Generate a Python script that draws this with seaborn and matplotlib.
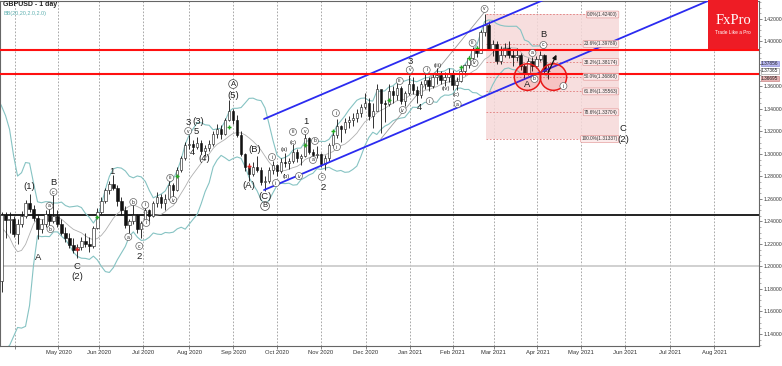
import numpy as np
import pandas as pd
import matplotlib
matplotlib.use("Agg")
import matplotlib.pyplot as plt
import seaborn as sns
from matplotlib.patches import Rectangle, Ellipse

# ---------------- data (GBPUSD, 2-day bars, index 0 = start of Apr 2020) -------------
bar_start = -12
highs = [1.2970, 1.2830, 1.2930, 1.3200, 1.3050, 1.2890, 1.2400, 1.2100, 1.1760, 1.1880, 1.2480, 1.2480,
         1.2480, 1.2450, 1.2420, 1.2490, 1.2590, 1.2648, 1.2550, 1.2460, 1.2420, 1.2500,
         1.2520, 1.2640, 1.2500, 1.2420, 1.2350, 1.2300, 1.2250, 1.2200, 1.2260, 1.2300,
         1.2260, 1.2360, 1.2520, 1.2620, 1.2700, 1.2760, 1.2813, 1.2720, 1.2620, 1.2540,
         1.2420, 1.2570, 1.2470, 1.2400, 1.2540, 1.2510, 1.2580, 1.2660, 1.2640, 1.2640,
         1.2780, 1.2740, 1.2880, 1.2980, 1.3110, 1.3170, 1.3120, 1.3150, 1.3120, 1.3080,
         1.3120, 1.3200, 1.3270, 1.3260, 1.3320, 1.3482, 1.3400, 1.3350, 1.3200, 1.3010,
         1.2920, 1.2930, 1.2980, 1.2880, 1.2800, 1.2880, 1.2935, 1.2910, 1.2960, 1.3005,
         1.2960, 1.3085, 1.3040, 1.3000, 1.3177, 1.3150, 1.3040, 1.3070, 1.3010, 1.2990,
         1.3100, 1.3200, 1.3313, 1.3260, 1.3320, 1.3340, 1.3360, 1.3400, 1.3440, 1.3540,
         1.3500, 1.3450, 1.3625, 1.3560, 1.3480, 1.3625, 1.3600, 1.3640, 1.3600, 1.3560,
         1.3703, 1.3680, 1.3600, 1.3650, 1.3710, 1.3680, 1.3720, 1.3760, 1.3740, 1.3730,
         1.3760, 1.3745, 1.3680, 1.3760, 1.3800, 1.3870, 1.3950, 1.3960, 1.4100, 1.4241,
         1.4180, 1.4010, 1.4000, 1.3960, 1.3990, 1.4000, 1.3920, 1.3940, 1.3900, 1.3800,
         1.3850, 1.3860, 1.3870, 1.3919, 1.3890, 1.3790]
lows = [1.2725, 1.2725, 1.2775, 1.2905, 1.2830, 1.2260, 1.2000, 1.1410, 1.1410, 1.1480, 1.1770, 1.2250,
        1.2300, 1.2260, 1.2200, 1.2350, 1.2430, 1.2480, 1.2400, 1.2247, 1.2300, 1.2350,
        1.2360, 1.2390, 1.2350, 1.2280, 1.2220, 1.2160, 1.2120, 1.2076, 1.2150, 1.2170,
        1.2130, 1.2160, 1.2330, 1.2470, 1.2560, 1.2640, 1.2680, 1.2540, 1.2460, 1.2340,
        1.2300, 1.2380, 1.2300, 1.2252, 1.2380, 1.2390, 1.2440, 1.2530, 1.2520, 1.2500,
        1.2590, 1.2600, 1.2670, 1.2840, 1.2950, 1.3040, 1.3005, 1.3040, 1.3000, 1.2985,
        1.3030, 1.3070, 1.3140, 1.3130, 1.3170, 1.3290, 1.3270, 1.3150, 1.2980, 1.2850,
        1.2762, 1.2800, 1.2840, 1.2720, 1.2675, 1.2740, 1.2820, 1.2805, 1.2830, 1.2880,
        1.2865, 1.2920, 1.2930, 1.2905, 1.2970, 1.3000, 1.2945, 1.2960, 1.2880, 1.2855,
        1.2940, 1.3060, 1.3140, 1.3105, 1.3190, 1.3230, 1.3250, 1.3280, 1.3330, 1.3400,
        1.3300, 1.3230, 1.3430, 1.3188, 1.3280, 1.3430, 1.3450, 1.3480, 1.3440, 1.3430,
        1.3520, 1.3530, 1.3450, 1.3500, 1.3580, 1.3560, 1.3590, 1.3620, 1.3620, 1.3600,
        1.3640, 1.3570, 1.3566, 1.3640, 1.3700, 1.3760, 1.3830, 1.3860, 1.3900, 1.4050,
        1.3920, 1.3870, 1.3800, 1.3800, 1.3860, 1.3850, 1.3780, 1.3830, 1.3750, 1.3670,
        1.3700, 1.3740, 1.3760, 1.3830, 1.3720, 1.3669]
closes = [1.2825, 1.2815, 1.2905, 1.3050, 1.2890, 1.2330, 1.2030, 1.1610, 1.1510, 1.1870, 1.2460, 1.2410,
          1.2420, 1.2290, 1.2380, 1.2450, 1.2560, 1.2510, 1.2430, 1.2330, 1.2380, 1.2470,
          1.2400, 1.2450, 1.2380, 1.2300, 1.2250, 1.2190, 1.2150, 1.2170, 1.2230, 1.2200,
          1.2180, 1.2340, 1.2480, 1.2580, 1.2680, 1.2730, 1.2700, 1.2580, 1.2500, 1.2370,
          1.2400, 1.2460, 1.2330, 1.2390, 1.2500, 1.2450, 1.2560, 1.2620, 1.2560, 1.2600,
          1.2720, 1.2680, 1.2860, 1.2960, 1.3080, 1.3090, 1.3060, 1.3100, 1.3030, 1.3050,
          1.3090, 1.3180, 1.3220, 1.3180, 1.3300, 1.3380, 1.3300, 1.3170, 1.3000, 1.2880,
          1.2820, 1.2880, 1.2860, 1.2750, 1.2760, 1.2860, 1.2900, 1.2850, 1.2930, 1.2920,
          1.2940, 1.3020, 1.2960, 1.2980, 1.3140, 1.3020, 1.2990, 1.3000, 1.2910, 1.2960,
          1.3080, 1.3170, 1.3250, 1.3220, 1.3280, 1.3300, 1.3320, 1.3360, 1.3420, 1.3450,
          1.3340, 1.3380, 1.3580, 1.3450, 1.3440, 1.3560, 1.3520, 1.3590, 1.3470, 1.3540,
          1.3620, 1.3570, 1.3520, 1.3620, 1.3660, 1.3600, 1.3680, 1.3700, 1.3660, 1.3680,
          1.3720, 1.3610, 1.3650, 1.3740, 1.3790, 1.3850, 1.3930, 1.3900, 1.4080, 1.4150,
          1.3930, 1.3980, 1.3830, 1.3880, 1.3940, 1.3880, 1.3860, 1.3880, 1.3780, 1.3720,
          1.3830, 1.3780, 1.3840, 1.3880, 1.3740, 1.3737]
first_open = 1.2790

# fractal markers
green_k = [22, 42, 55, 74, 81, 95, 113, 115, 117]
green_p = [1.2440, 1.2804, 1.3240, 1.3080, 1.3204, 1.3480, 1.3773, 1.3853, 1.3942]
red_k = [17, 60]
red_p = [1.2156, 1.2893]

# levels
resistance = 1.3925
support = 1.3710
black_level = 1.2460
grey_level = 1.2000
fib_top, fib_bottom = 1.42400, 1.31337
fib_pcts = [0.0, 23.6, 38.2, 50.0, 61.8, 78.6, 100.0]

# axis text (1.38000 is covered by the price tags in the reference)
y_ticks = [1.14, 1.16, 1.18, 1.20, 1.22, 1.24, 1.26, 1.28, 1.30, 1.32, 1.34, 1.36, 1.38, 1.40, 1.42]
y_hidden = [1.38]
month_pos = [1.25, 12.25, 22.5, 33.5, 45, 56, 67, 78, 89.25, 100.25, 111, 121.25, 132.25, 143.25, 154.25, 165.5, 176.5]
month_lbl = ["", "May 2020", "Jun 2020", "Jul 2020", "Aug 2020", "Sep 2020", "Oct 2020", "Nov 2020",
             "Dec 2020", "Jan 2021", "Feb 2021", "Mar 2021", "Apr 2021", "May 2021", "Jun 2021",
             "Jul 2021", "Aug 2021"]

# wave labels (text, bar index, price)
big_labels = [("(1)", 5.0, 1.2707), ("A", 7.25, 1.2076), ("B", 11, 1.2751), ("C", 17, 1.2004),
              ("(2)", 17, 1.1907), ("1", 25.75, 1.2840), ("2", 32.5, 1.2093), ("3", 44.75, 1.3284),
              ("(3)", 47.2, 1.3293), ("5", 46.75, 1.3196), ("4", 45.75, 1.3009), ("(4)", 48.75, 1.2964),
              ("(5)", 56, 1.3516), ("(B)", 61.5, 1.3036), ("(A)", 60, 1.2716), ("(C)", 64, 1.2618),
              ("1", 74.25, 1.3293), ("2", 78.5, 1.2698), ("3", 100.25, 1.3818), ("4", 102.75, 1.3409),
              ("A", 129.75, 1.3622), ("B", 133.75, 1.4058), ("C", 153.75, 1.3231), ("(2)", 153.75, 1.3133)]
ring_labels = [("A", 56, 1.3622), ("B", 64, 1.2538)]
small_rings = [("a", 10, 1.2538), ("c", 11, 1.2662), ("b", 10.25, 1.2333), ("a", 29.75, 1.2262),
               ("b", 31, 1.2573), ("c", 32.5, 1.2182), ("i", 34, 1.2547), ("ii", 34.25, 1.2387),
               ("iii", 40.25, 1.2787), ("iv", 41, 1.2591), ("v", 44.75, 1.3204), ("i", 65.75, 1.2973),
               ("ii", 66.75, 1.2742), ("iii", 71, 1.3196), ("iv", 72.5, 1.2804), ("v", 74, 1.3204),
               ("a", 76, 1.2947), ("b", 76.5, 1.3116), ("c", 78.25, 1.2796), ("i", 81.75, 1.3364),
               ("ii", 82, 1.3062), ("iii", 97.75, 1.3649), ("iv", 98.5, 1.3391), ("v", 100.25, 1.3747),
               ("i", 104.5, 1.3747), ("ii", 105.25, 1.3471), ("a", 112.25, 1.3444), ("iii", 116, 1.3987),
               ("iv", 116.5, 1.3809), ("v", 119, 1.4289), ("a", 131, 1.3898), ("b", 131.5, 1.3667),
               ("c", 133.75, 1.3969), ("i", 138.75, 1.3604)]
small_plain = [("(a)", 68.75, 1.3036), ("(b)", 69.25, 1.2796), ("(c)", 71, 1.3098),
               ("(c)", 111.75, 1.3533), ("(iii)", 107.25, 1.3791), ("(iv)", 109.25, 1.3578)]

# ---------------- figure -------------
sns.set_theme(style="white")
plt.rcParams["font.family"] = ["Liberation Sans", "DejaVu Sans"]

W, H = 782, 366
fig = plt.figure(figsize=(W / 100, H / 100), dpi=100)
fig.patch.set_facecolor("white")
ax = fig.add_axes([0 / W, 20 / H, 759 / W, 345 / H])
ax.set_facecolor("white")

k = np.arange(bar_start, bar_start + len(closes))
df = pd.DataFrame({"k": k, "high": highs, "low": lows, "close": closes})
df["open"] = df["close"].shift(1).fillna(first_open)
roll = df["close"].rolling(10)
df["mid"] = roll.mean()
df["up"] = df["mid"] + 2 * roll.std(ddof=0)
df["dn"] = df["mid"] - 2 * roll.std(ddof=0)

XMIN, XMAX = -2.4, 187.75
YMIN, YMAX = 1.12933, 1.43600
ax.set_xlim(XMIN, XMAX)
ax.set_ylim(YMIN, YMAX)

# vertical dotted grid
for xp in month_pos:
    ax.axvline(xp, color="#9a9a9a", lw=0.6, ls=(0, (2, 2)), zorder=0)

# fib box
ax.add_patch(Rectangle((119.25, fib_bottom), 152.75 - 119.25, fib_top - fib_bottom,
                       facecolor="#f6d9d9", edgecolor="none", alpha=0.85, zorder=0.5))
for pct in fib_pcts:
    lvl = fib_top - (fib_top - fib_bottom) * pct / 100.0
    ax.plot([119.25, 152.75], [lvl, lvl], color="#e07a7a", lw=0.6, ls=(0, (2, 2)), zorder=0.6)
    ax.text(152.4, lvl, f"{pct:.1f}%({lvl:.5f})", fontsize=3.4, ha="right", va="center",
            color="#333333", zorder=6,
            bbox=dict(boxstyle="round,pad=0.2", fc="#fbeaea", ec="#e08a8a", lw=0.4))

# horizontal levels
ax.axhline(grey_level, color="#c8c8c8", lw=1.2, zorder=1)
ax.axhline(black_level, color="#111111", lw=1.3, zorder=1)

# Bollinger bands via seaborn
vis = df.dropna()
sns.lineplot(x=vis["k"], y=vis["up"], ax=ax, color="#86c3c3", lw=0.8, zorder=2)
sns.lineplot(x=vis["k"], y=vis["dn"], ax=ax, color="#86c3c3", lw=0.8, zorder=2)
sns.lineplot(x=vis["k"], y=vis["mid"], ax=ax, color="#b0b0b0", lw=0.6, zorder=2)

# candles
bull = df["close"] >= df["open"]
ax.vlines(df["k"], df["low"], df["high"], color="#111111", lw=0.6, zorder=3)
body_lo = np.minimum(df["open"], df["close"])
body_h = np.maximum(np.abs(df["close"] - df["open"]), 0.0004)
ax.bar(df["k"][bull], body_h[bull], bottom=body_lo[bull], width=0.6, color="white",
       edgecolor="#111111", linewidth=0.4, zorder=3.5)
ax.bar(df["k"][~bull], body_h[~bull], bottom=body_lo[~bull], width=0.6, color="#111111",
       edgecolor="#111111", linewidth=0.4, zorder=3.5)

# fractal markers
ax.scatter(green_k, green_p, marker="+", color="#22aa22", s=12, lw=1.0, zorder=4)
ax.scatter(red_k, red_p, marker="+", color="#dd2222", s=12, lw=1.0, zorder=4)

# channel lines
slope = 0.001511
ax.plot([63.75, 190], [1.3311, 1.3311 + slope * (190 - 63.75)], color="#2b2bf0", lw=1.3, zorder=4)
ax.plot([63.75, 190], [1.2680, 1.2680 + slope * (190 - 63.75)], color="#2b2bf0", lw=1.3, zorder=4)
ax.plot([93, 119], [1.3133, 1.4262], color="#9a9a9a", lw=0.6, zorder=2.5)

# support / resistance
ax.axhline(resistance, color="#ff1010", lw=1.5, zorder=4.5)
ax.axhline(support, color="#ff1010", lw=1.5, zorder=4.5)

# red circles
for cx in (129.75, 136.25):
    ax.add_patch(Ellipse((cx, 1.3684), 6.6, 0.0236, facecolor=(1, 0, 0, 0.12),
                         edgecolor="#e81818", lw=1.1, zorder=5))
ax.annotate("", xy=(137.3, 1.3905), xytext=(134.6, 1.3700),
            arrowprops=dict(arrowstyle="-|>", color="#111111", lw=0.9, mutation_scale=6), zorder=6)

# wave labels
for t, x, y in big_labels:
    ax.text(x, y, t, fontsize=6.8, ha="center", va="center", color="#222222", zorder=6)
for t, x, y in ring_labels:
    ax.text(x, y, t, fontsize=5.5, ha="center", va="center", color="#222222", zorder=6,
            bbox=dict(boxstyle="circle,pad=0.12", fc="white", ec="#444444", lw=0.5))
for t, x, y in small_rings:
    ax.text(x, y, t, fontsize=3.6, ha="center", va="center", color="#222222", zorder=6,
            bbox=dict(boxstyle="circle,pad=0.2", fc="white", ec="#555555", lw=0.45))
for t, x, y in small_plain:
    ax.text(x, y, t, fontsize=4.2, ha="center", va="center", color="#222222", zorder=6)

# axes styling
ax.yaxis.tick_right()
ax.set_yticks(y_ticks)
ax.set_yticklabels(["" if v in y_hidden else f"{v:.5f}" for v in y_ticks], fontsize=3.7, color="#333333")
ax.set_yticks(np.arange(1.13, 1.436, 0.005), minor=True)
ax.set_xticks(month_pos)
ax.set_xticklabels(month_lbl, fontsize=4.2, color="#333333")
ax.tick_params(axis="both", which="major", length=2.0, width=0.5, color="#555555", pad=1.0,
               right=True, bottom=True, left=False)
ax.tick_params(axis="y", which="minor", length=1.2, width=0.4, color="#777777", right=True, left=False)
ax.set_xlabel("")
ax.set_ylabel("")
for s in ax.spines.values():
    s.set_color("#666666")
    s.set_linewidth(0.8)
ax.grid(False)

# header text
fig.text(3 / W, 1 - 5 / H, "GBPUSD - 1 day", fontsize=5, va="center", ha="left", color="#222222",
         weight="bold")
fig.text(3 / W, 1 - 13 / H, "BB(20,20,2.0,2.0)", fontsize=4, va="center", ha="left", color="#5fb0b0")

# right price tags
tags = [("1.37856", 63.5, "#b8b8f0", "#7b7bd0"), ("1.37365", 71, "white", "#888888"),
        ("1.36695", 78.5, "#e6b5b5", "#c07070")]
for t, yp, fc, ec in tags:
    fig.text(761 / W, 1 - yp / H, t, fontsize=3.4, va="center", ha="left", color="#222222",
             zorder=7, bbox=dict(boxstyle="square,pad=0.06", fc=fc, ec=ec, lw=0.4))

# logo
fig.add_artist(Rectangle((708 / W, 1 - 49 / H), 50 / W, 49 / H, transform=fig.transFigure,
                         facecolor="#ee1c25", edgecolor="none", zorder=8))
fig.text(733 / W, 1 - 20 / H, "FxPro", fontsize=10.5, family=["Liberation Serif", "DejaVu Serif"],
         color="white", ha="center", va="center", zorder=9)
fig.text(733 / W, 1 - 33 / H, "Trade Like a Pro", fontsize=3.4, color="white",
         ha="center", va="center", zorder=9)

fig.savefig("out.png", dpi=100, facecolor="white")
